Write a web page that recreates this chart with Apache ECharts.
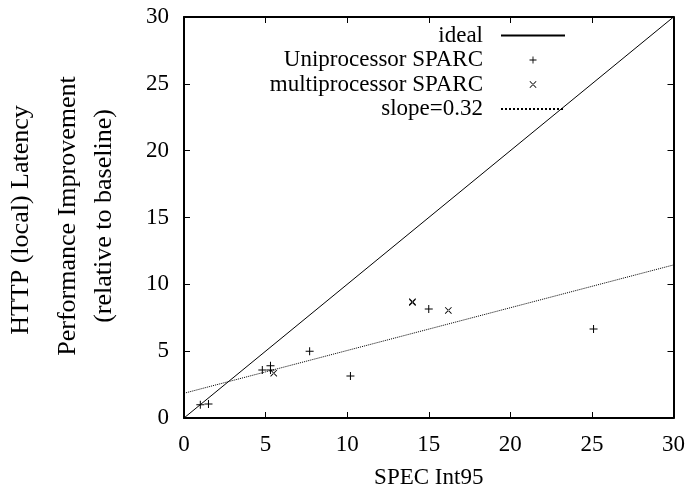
<!DOCTYPE html>
<html>
<head>
<meta charset="utf-8">
<script src="https://cdn.jsdelivr.net/npm/echarts@6/dist/echarts.min.js"></script>
<style>html,body{margin:0;padding:0;background:#fff}#c{width:688px;height:494px}</style>
</head>
<body>
<div id="c"></div>
<script>
// ---- data ----
const uniX = [1.0, 1.5, 4.8, 5.3, 5.3, 7.7, 10.2, 15.0, 25.1];
const uniY = [1.0, 1.05, 3.6, 3.9, 3.6, 5.0, 3.15, 8.15, 6.65];
const multiX = [5.5, 14.0, 14.0, 16.2];
const multiY = [3.35, 8.65, 8.7, 8.05];
const idealX = [0, 30];
const idealY = [0, 30];
const slopeX = [0, 30];
const slopeY = [1.85, 11.45];
const xTicks = [0, 5, 10, 15, 20, 25, 30];
const yTicks = [0, 5, 10, 15, 20, 25, 30];
const seriesNames = ['ideal', 'Uniprocessor SPARC', 'multiprocessor SPARC', 'slope=0.32'];
const xTitle = 'SPEC Int95';
const yTitles = ['HTTP (local) Latency', 'Performance Improvement', '(relative to baseline)'];

const zip = (a, b) => a.map((v, i) => [v, b[i]]);
const FONT = 'Liberation Serif';
const FS = 23;
const FSY = 26;

const plusPath = 'path://M3.5,0h1v8h-1zM0,3.5h8v1h-8z';
const crossPath = 'path://M0,0.7L0.7,0L8,7.3L7.3,8ZM8,0.7L7.3,0L0,7.3L0.7,8Z';
const plusLegend = 'path://M-4,-4M12,12M3.5,0h1v8h-1zM0,3.5h8v1h-8z';
const crossLegend = 'path://M-4,-4M12,12M0,0.7L0.7,0L8,7.3L7.3,8ZM8,0.7L7.3,0L0,7.3L0.7,8Z';

const axisCommon = {
  type: 'value', min: xTicks[0], max: xTicks[xTicks.length - 1], interval: 5,
  axisLine: { show: true, onZero: false, lineStyle: { color: '#000', width: 2 } },
  axisTick: { show: true, inside: true, length: 6, lineStyle: { color: '#000', width: 1 } },
  splitLine: { show: false }
};

const hiddenSym = { color: 'transparent', borderColor: 'transparent', borderWidth: 0 };

const chart = echarts.init(document.getElementById('c'), null, { renderer: 'canvas' });
chart.setOption({
  animation: false,
  backgroundColor: '#fff',
  textStyle: { fontFamily: FONT },
  grid: { left: 184, right: 13, top: 17, bottom: 74 },
  xAxis: [
    Object.assign({}, axisCommon, {
      position: 'bottom', name: xTitle, nameLocation: 'middle', nameGap: 48,
      nameTextStyle: { fontFamily: FONT, fontSize: FS, color: '#000' },
      axisLabel: { margin: 15, fontFamily: FONT, fontSize: FS, color: '#000' }
    }),
    Object.assign({}, axisCommon, { position: 'top', axisLabel: { show: false } })
  ],
  yAxis: [
    Object.assign({}, axisCommon, {
      min: yTicks[0], max: yTicks[yTicks.length - 1],
      position: 'left',
      axisLabel: { margin: 15, fontFamily: FONT, fontSize: FS, color: '#000' }
    }),
    Object.assign({}, axisCommon, {
      min: yTicks[0], max: yTicks[yTicks.length - 1],
      position: 'right', axisLabel: { show: false }
    })
  ],
  legend: {
    orient: 'vertical', right: 117, top: 19, align: 'right',
    itemWidth: 64, itemHeight: 14, itemGap: 1.5,
    textStyle: { fontFamily: FONT, fontSize: FS, color: '#000', padding: [0, 13, 0, 0] },
    data: [
      { name: seriesNames[0], itemStyle: hiddenSym },
      { name: seriesNames[1], icon: plusLegend },
      { name: seriesNames[2], icon: crossLegend },
      { name: seriesNames[3], itemStyle: hiddenSym }
    ]
  },
  graphic: yTitles.map((t, i) => ({
    type: 'text',
    x: [21, 68, 104][i], y: [220, 216, 216][i],
    rotation: Math.PI / 2,
    style: { text: t, fontFamily: FONT, fontSize: FSY, fill: '#000', textAlign: 'center', textVerticalAlign: 'middle' }
  })),
  series: [
    {
      name: seriesNames[0], type: 'line', data: zip(idealX, idealY), symbol: 'none',
      lineStyle: { color: '#000', width: 1 }, itemStyle: { color: '#000' }, z: 3
    },
    {
      name: seriesNames[1], type: 'scatter', data: zip(uniX, uniY), symbol: plusPath, symbolSize: 8,
      itemStyle: { color: '#000', opacity: 1 }, z: 4
    },
    {
      name: seriesNames[2], type: 'scatter', data: zip(multiX, multiY), symbol: crossPath, symbolSize: 7,
      itemStyle: { color: '#000', opacity: 1 }, z: 4
    },
    {
      name: seriesNames[3], type: 'line', data: zip(slopeX, slopeY), symbol: 'none',
      lineStyle: { color: '#000', width: 1, type: 'dotted' }, itemStyle: { color: '#000' }, z: 3
    }
  ]
});
</script>
</body>
</html>
